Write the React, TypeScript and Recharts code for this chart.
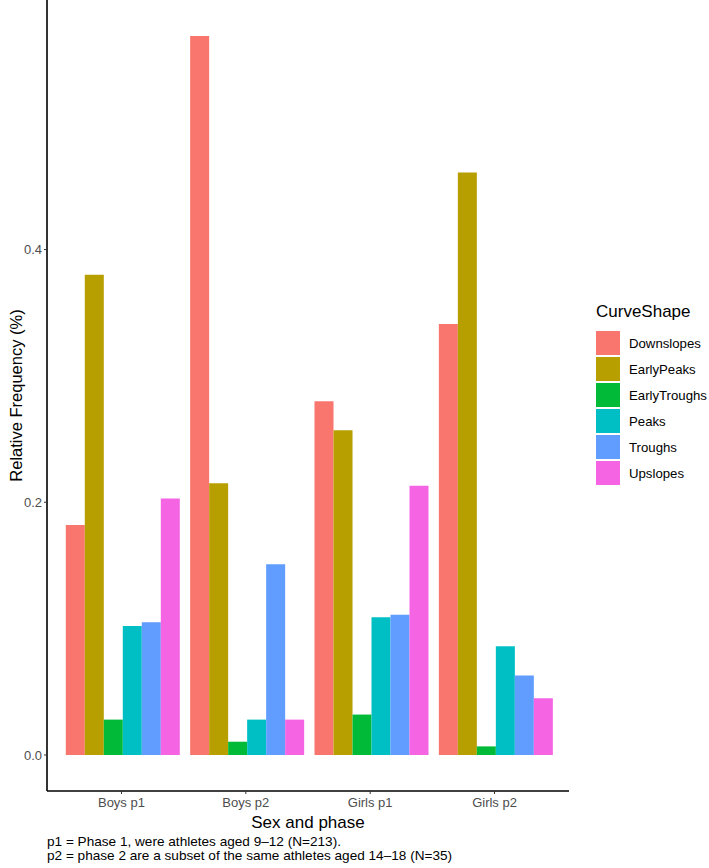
import { BarChart, Bar, XAxis, YAxis } from 'recharts'

const groups = ['Boys p1', 'Boys p2', 'Girls p1', 'Girls p2']

const downslopes = [0.182, 0.569, 0.28, 0.341]
const earlyPeaks = [0.38, 0.215, 0.257, 0.461]
const earlyTroughs = [0.028, 0.0105, 0.032, 0.0068]
const peaks = [0.102, 0.028, 0.109, 0.086]
const troughs = [0.105, 0.151, 0.111, 0.063]
const upslopes = [0.203, 0.028, 0.213, 0.045]

const yTicks = [0, 0.2, 0.4]

const SHAPES = [
  { key: 'Downslopes', values: downslopes, color: '#F8766D' },
  { key: 'EarlyPeaks', values: earlyPeaks, color: '#B79F00' },
  { key: 'EarlyTroughs', values: earlyTroughs, color: '#00BA38' },
  { key: 'Peaks', values: peaks, color: '#00BFC4' },
  { key: 'Troughs', values: troughs, color: '#619CFF' },
  { key: 'Upslopes', values: upslopes, color: '#F564E3' },
]

const data = groups.map((g, i) => {
  const row: Record<string, string | number> = { group: g }
  SHAPES.forEach((s) => {
    row[s.key] = s.values[i]
  })
  return row
})

const FONT = '"Liberation Sans", Arial, Helvetica, sans-serif'

// ggplot-style legend, placed by hand to the right of the panel
function CurveLegend() {
  return (
    <div style={{ position: 'absolute', left: 596, top: 302, fontFamily: FONT, color: '#000' }}>
      <div style={{ fontSize: 17, lineHeight: '20px', marginBottom: 8 }}>CurveShape</div>
      {SHAPES.map((s) => (
        <div key={s.key} style={{ display: 'flex', alignItems: 'center', height: 26 }}>
          <div style={{ width: 24, height: 24, background: s.color, marginRight: 9 }} />
          <span style={{ fontSize: 13.2, whiteSpace: 'nowrap' }}>{s.key}</span>
        </div>
      ))}
    </div>
  )
}

export default function App() {
  return (
    <div style={{ position: 'absolute', left: 0, top: 0, width: 709, height: 868, background: '#fff' }}>
      <BarChart
        width={709}
        height={868}
        data={data}
        margin={{ top: 0, right: 140, bottom: 0, left: 0 }}
        barCategoryGap={6.5}
        barGap={0}
      >
        <XAxis
          dataKey="group"
          height={77}
          padding={{ left: 12.3, right: 12.3 }}
          axisLine={{ stroke: '#000', strokeWidth: 1.6 }}
          tickLine={{ stroke: '#333' }}
          tickSize={3}
          tick={{ fill: '#4D4D4D', fontSize: 13, fontFamily: FONT, dy: 2 }}
          label={{
            value: 'Sex and phase',
            position: 'insideTop',
            offset: 25,
            fill: '#000',
            fontSize: 17,
            fontFamily: FONT,
          }}
        />
        <YAxis
          width={47}
          domain={[-0.0285, 0.5975]}
          allowDataOverflow
          ticks={yTicks}
          tickFormatter={(v: number) => v.toFixed(1)}
          axisLine={{ stroke: '#000', strokeWidth: 1.6 }}
          tickLine={{ stroke: '#333' }}
          tickSize={3}
          tick={{ fill: '#4D4D4D', fontSize: 13, fontFamily: FONT }}
          label={{
            value: 'Relative Frequency (%)',
            angle: -90,
            position: 'insideLeft',
            offset: 16,
            fill: '#000',
            fontSize: 16.5,
            fontFamily: FONT,
            style: { textAnchor: 'middle' },
          }}
        />
        {SHAPES.map((s) => (
          <Bar key={s.key} dataKey={s.key} fill={s.color} isAnimationActive={false} />
        ))}
      </BarChart>
      <CurveLegend />
      <div
        style={{
          position: 'absolute',
          left: 47,
          top: 835,
          fontFamily: FONT,
          fontSize: 13.6,
          lineHeight: '14px',
          color: '#000',
          whiteSpace: 'nowrap',
        }}
      >
        <div>p1 = Phase 1, were athletes aged 9–12 (N=213).</div>
        <div>p2 = phase 2 are a subset of the same athletes aged 14–18 (N=35)</div>
      </div>
    </div>
  )
}
